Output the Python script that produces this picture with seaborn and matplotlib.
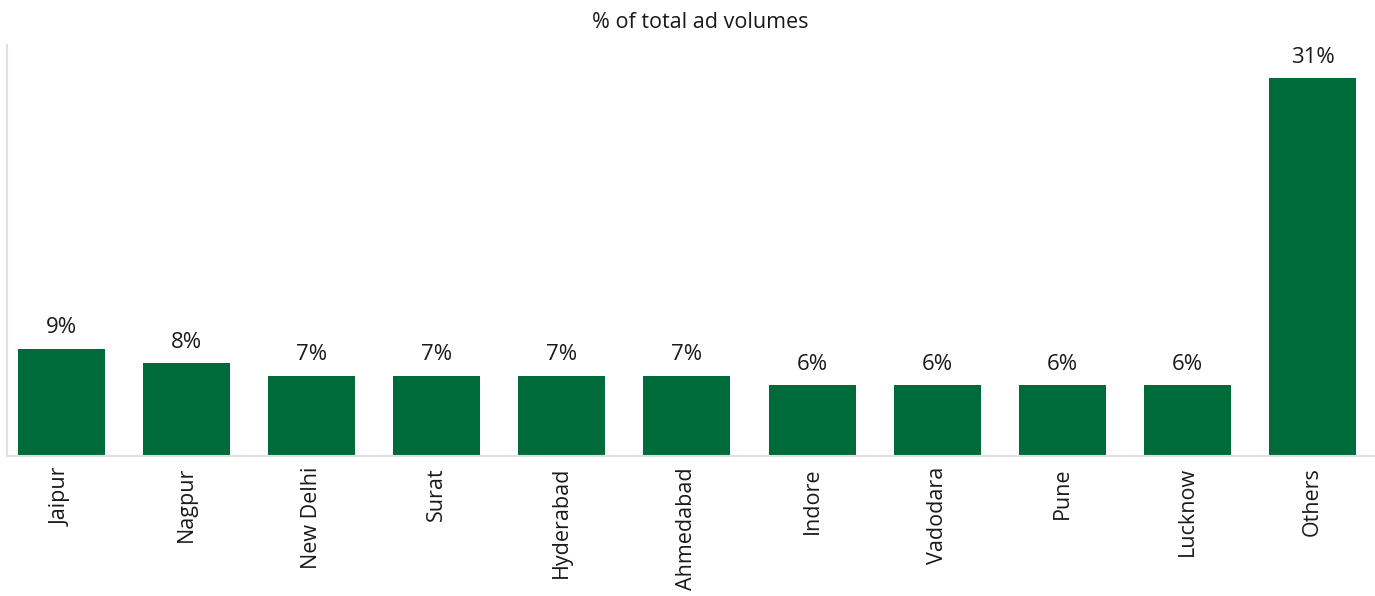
import matplotlib
matplotlib.use("Agg")
import pandas as pd
import matplotlib.pyplot as plt
import seaborn as sns

# Data
cities = ["Jaipur", "Nagpur", "New Delhi", "Surat", "Hyderabad", "Ahmedabad",
          "Indore", "Vadodara", "Pune", "Lucknow", "Others"]
share = [8.8, 7.6, 6.6, 6.6, 6.6, 6.6, 5.8, 5.8, 5.8, 5.8, 31.0]
labels = ["9%", "8%", "7%", "7%", "7%", "7%", "6%", "6%", "6%", "6%", "31%"]

df = pd.DataFrame({"city": cities, "share": share})

sns.set_theme(style="white")
plt.rcParams["font.family"] = ["Open Sans", "DejaVu Sans"]

fig = plt.figure(figsize=(13.75, 5.96), dpi=100)
ax = fig.add_axes([0.0051, 0.2349, 0.9949, 0.6896])

sns.barplot(data=df, x="city", y="share", color="#006B3A", saturation=1,
            width=0.695, linewidth=0, ax=ax)

for i, (v, lab) in enumerate(zip(share, labels)):
    ax.text(i, v + 0.85, lab, ha="center", va="bottom", fontsize=16, color="#1a1a1a")

ax.set_xlim(-0.435, 10.5)
ax.set_ylim(0, 33.7)
ax.set_xlabel("")
ax.set_ylabel("")
ax.set_yticks([])
ax.tick_params(axis="x", length=0, pad=8)
for t in ax.get_xticklabels():
    t.set_rotation(90)
    t.set_fontsize(15.5)
    t.set_color("#1a1a1a")

for side in ["top", "right"]:
    ax.spines[side].set_visible(False)
for side in ["left", "bottom"]:
    ax.spines[side].set_color("#e0e0e0")
    ax.spines[side].set_linewidth(1.5)

fig.text(0.509, 0.963, "% of total ad volumes", ha="center", va="center",
         fontsize=15.5, color="#1a1a1a")

fig.savefig("out.png", dpi=100)
